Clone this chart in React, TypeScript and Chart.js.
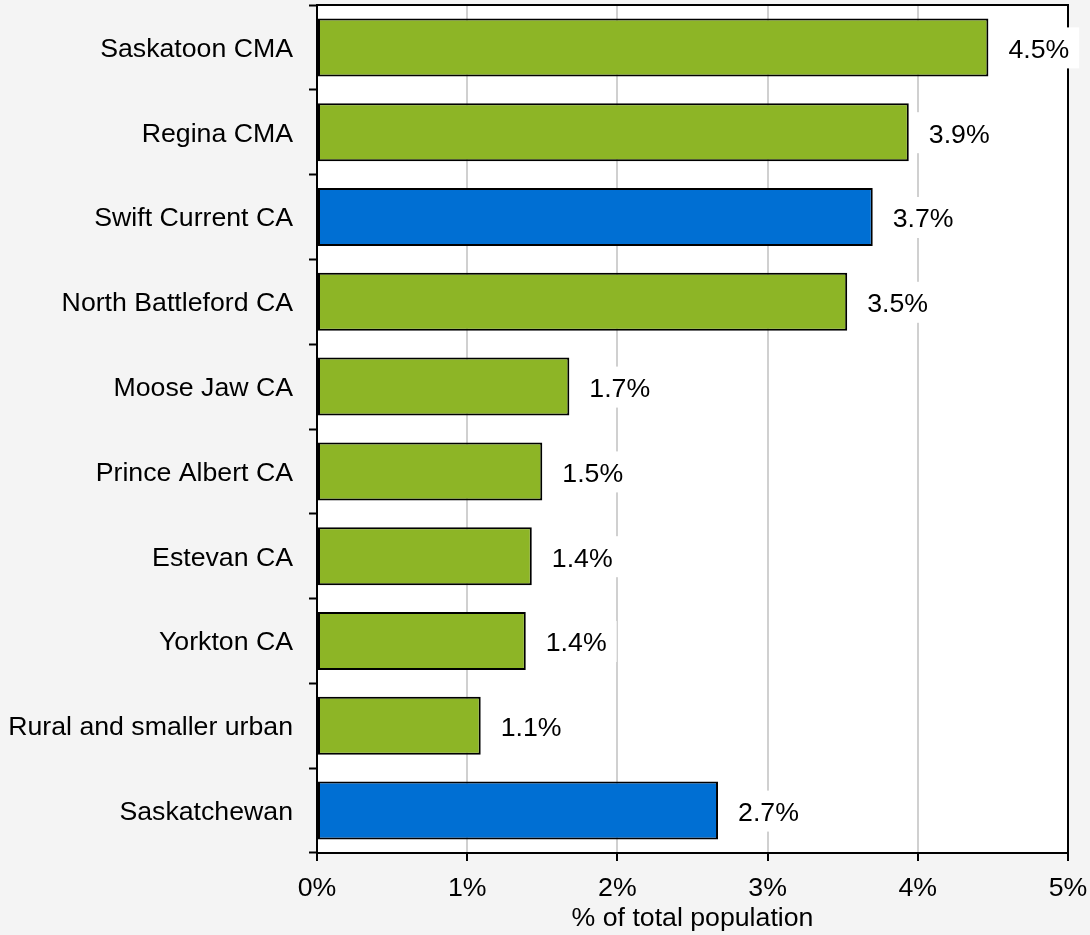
import React, { useEffect, useRef } from "react";
import { Chart, registerables } from "chart.js";

Chart.register(...registerables);

const categories = [
  "Saskatoon CMA",
  "Regina CMA",
  "Swift Current CA",
  "North Battleford CA",
  "Moose Jaw CA",
  "Prince Albert CA",
  "Estevan CA",
  "Yorkton CA",
  "Rural and smaller urban",
  "Saskatchewan",
];
const values = [4.47, 3.94, 3.7, 3.53, 1.68, 1.5, 1.43, 1.39, 1.09, 2.67];
const highlighted = [false, false, true, false, false, false, false, false, false, true];
const xTicks = [0, 1, 2, 3, 4, 5];
const axisTitle = "% of total population";

const GREEN = "#8db526";
const BLUE = "#006fd3";
const FONT = "'Liberation Sans', Arial, sans-serif";
const FS = 26.7;

const framePlugin = {
  id: "frame",
  beforeDraw(chart: any) {
    const { ctx, chartArea: a } = chart;
    ctx.save();
    ctx.fillStyle = "#f4f4f4";
    ctx.fillRect(0, 0, chart.width, chart.height);
    ctx.fillStyle = "#ffffff";
    ctx.fillRect(a.left, a.top, a.right - a.left, a.bottom - a.top);
    ctx.restore();
  },
  afterDraw(chart: any) {
    const { ctx, chartArea: a } = chart;
    ctx.save();
    ctx.strokeStyle = "#000";
    ctx.lineWidth = 2;
    ctx.beginPath();
    ctx.moveTo(a.left, a.top);
    ctx.lineTo(a.right, a.top);
    ctx.lineTo(a.right, a.bottom);
    ctx.stroke();
    ctx.restore();
  },
};

const labelPlugin = {
  id: "barLabels",
  afterDraw(chart: any) {
    const { ctx } = chart;
    const meta = chart.getDatasetMeta(0);
    ctx.save();
    ctx.font = `${FS}px ${FONT}`;
    ctx.textBaseline = "middle";
    ctx.textAlign = "left";
    meta.data.forEach((bar: any, i: number) => {
      const text = values[i].toFixed(1) + "%";
      const w = ctx.measureText(text).width;
      const x0 = bar.x + 6;
      const tx = bar.x + 20;
      ctx.fillStyle = "#ffffff";
      ctx.fillRect(x0, bar.y - 20, tx + w + 10 - x0, 41);
      ctx.fillStyle = "#000";
      ctx.fillText(text, tx, bar.y + 3);
    });
    ctx.restore();
  },
};

function zeroPad(scale: any) {
  scale.paddingTop = 0;
  scale.paddingBottom = 0;
  scale.paddingLeft = 0;
  scale.paddingRight = 0;
}

export default function App() {
  const ref = useRef<HTMLCanvasElement>(null);
  useEffect(() => {
    document.body.style.margin = "0";
    document.body.style.background = "#f4f4f4";
    const chart = new Chart(ref.current!, {
      type: "bar",
      data: {
        labels: categories,
        datasets: [
          {
            data: values,
            backgroundColor: highlighted.map((h) => (h ? BLUE : GREEN)),
            borderColor: "#000",
            borderWidth: 2,
            borderSkipped: false,
            barPercentage: 0.684,
            categoryPercentage: 1,
          },
        ],
      },
      options: {
        indexAxis: "y",
        animation: false,
        responsive: false,
        devicePixelRatio: 1,
        layout: { padding: { top: 5, right: 22, left: 0, bottom: 0 } },
        plugins: { legend: { display: false }, tooltip: { enabled: false } },
        scales: {
          x: {
            min: 0,
            max: 5,
            afterFit(scale: any) {
              scale.height = 82;
              zeroPad(scale);
            },
            afterBuildTicks(scale: any) {
              scale.ticks = xTicks.map((v) => ({ value: v }));
            },
            ticks: {
              callback: (v: any) => v + "%",
              color: "#000",
              font: { size: FS, family: FONT },
              padding: 12,
              maxRotation: 0,
            },
            grid: {
              color: "#d0d0d0",
              lineWidth: 2,
              tickColor: "#000",
              tickLength: 8,
              tickWidth: 2,
            },
            border: { color: "#000", width: 2 },
            title: {
              display: true,
              text: axisTitle,
              color: "#000",
              font: { size: FS, family: FONT },
              padding: { top: 0, bottom: 0 },
            },
          },
          y: {
            afterFit(scale: any) {
              scale.width = 317;
              zeroPad(scale);
            },
            ticks: {
              color: "#000",
              font: { size: FS, family: FONT },
              padding: 16,
              labelOffset: 2,
            },
            grid: {
              offset: true,
              drawOnChartArea: false,
              drawTicks: true,
              tickColor: "#000",
              tickLength: 8,
              tickWidth: 2,
            },
            border: { color: "#000", width: 2 },
          },
        },
      },
      plugins: [framePlugin, labelPlugin],
    });
    return () => chart.destroy();
  }, []);
  return (
    <div style={{ width: 1090, height: 935, background: "#f4f4f4" }}>
      <canvas ref={ref} width={1090} height={935} style={{ display: "block" }} />
    </div>
  );
}
